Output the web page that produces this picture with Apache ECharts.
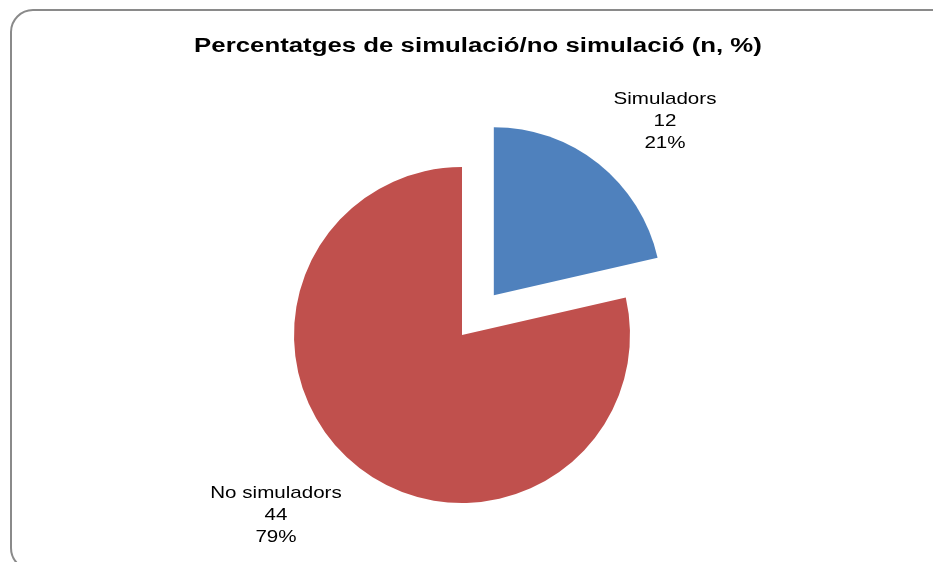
<!DOCTYPE html>
<html>
<head>
<meta charset="utf-8">
<script src="https://cdn.jsdelivr.net/npm/echarts@6/dist/echarts.min.js"></script>
<style>
  html, body { margin: 0; padding: 0; background: #ffffff; }
  #chart { width: 933px; height: 562px; }
</style>
</head>
<body>
<div id="chart"></div>
<script>
// Survey groups: simulator users vs. non-users
const categories = ['Simuladors', 'No simuladors'];
const counts = [12, 44];
const percents = [21, 79];
const colors = ['#4F81BD', '#C0504D'];

const titleText = 'Percentatges de simulació/no simulació (n, %)';

const FONT = 'Liberation Sans, Arial, sans-serif';
// Text is drawn slightly widened, like the original spreadsheet rendering
const TEXT_STRETCH = 1.21;

const chart = echarts.init(document.getElementById('chart'), null, { renderer: 'canvas' });

const seriesData = categories.map((name, i) => ({
  name: name,
  value: counts[i],
  selected: i === 0,
  itemStyle: { color: colors[i] }
}));

// Anchor points (centre of each three-line data label)
const labelSpots = [
  { x: 665, y: 121 },
  { x: 276, y: 515 }
];

const labelGraphics = categories.map((name, i) => ({
  type: 'text',
  x: labelSpots[i].x,
  y: labelSpots[i].y,
  scaleX: TEXT_STRETCH,
  silent: true,
  style: {
    text: name + '\n' + counts[i] + '\n' + percents[i] + '%',
    font: '17px ' + FONT,
    fill: '#000000',
    align: 'center',
    verticalAlign: 'middle',
    lineHeight: 22
  }
}));

chart.setOption({
  backgroundColor: '#ffffff',
  animation: false,
  graphic: [
    {
      type: 'rect',
      shape: { x: 11, y: 10, width: 945, height: 560, r: 22 },
      style: { fill: null, stroke: '#8a8a8a', lineWidth: 2 },
      silent: true,
      z: -1
    },
    {
      type: 'text',
      x: 478,
      y: 46,
      scaleX: 1.29,
      silent: true,
      style: {
        text: titleText,
        font: 'bold 20px ' + FONT,
        fill: '#000000',
        align: 'center',
        verticalAlign: 'middle'
      }
    }
  ].concat(labelGraphics),
  series: [{
    type: 'pie',
    center: [462, 335],
    radius: 168,
    startAngle: 90,
    clockwise: true,
    selectedMode: 'single',
    selectedOffset: 51,
    emphasis: { disabled: true },
    data: seriesData,
    label: { show: false },
    labelLine: { show: false }
  }]
});
</script>
</body>
</html>
